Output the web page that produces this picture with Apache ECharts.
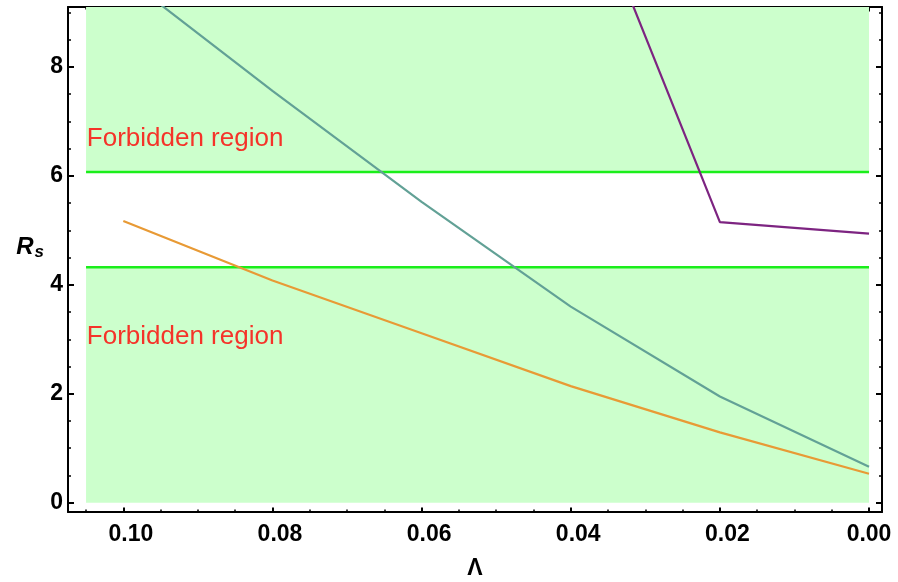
<!DOCTYPE html>
<html>
<head>
<meta charset="utf-8">
<script src="https://cdn.jsdelivr.net/npm/echarts@6/dist/echarts.min.js"></script>
<style>html,body{margin:0;padding:0;background:#fff}#c{width:898px;height:582px}</style>
</head>
<body>
<div id="c"></div>
<script>
// ---- data ----
const lambda = [0, 0.02, 0.04, 0.06, 0.08, 0.10];
const tealRs = [0.66, 1.95, 3.60, 5.52, 7.56, 9.67];
const orangeRs = [0.53, 1.29, 2.14, 3.11, 4.08, 5.17];
const purpleLambda = [0, 0.02, 0.04];
const purpleRs = [4.94, 5.15, 11.97];

const bandX = [0.105, 0];
const lowerBound = 4.32;
const upperBound = 6.07;

const annotText = ['Forbidden region', 'Forbidden region'];
const annotX = [0.1049, 0.1049];
const annotY = [6.67, 3.05];

const xMajor = [0, 0.02, 0.04, 0.06, 0.08, 0.10];
const xMinor = [0.005, 0.01, 0.015, 0.025, 0.03, 0.035, 0.045, 0.05, 0.055, 0.065, 0.07, 0.075, 0.085, 0.09, 0.095, 0.105];
const yMajor = [0, 2, 4, 6, 8];
const yMinor = [0.5, 1, 1.5, 2.5, 3, 3.5, 4.5, 5, 5.5, 6.5, 7, 7.5, 8.5, 9];

const X_MIN = -0.00174, X_MAX = 0.10742;
const Y_MIN = -0.171, Y_MAX = 9.099;

// ---- chart ----
const chart = echarts.init(document.getElementById('c'), null, {renderer: 'canvas'});
const labelFont = {fontFamily: 'Liberation Sans', fontWeight: 'bold', fontSize: 23, color: '#000'};
const lineStyle = {color: '#000', width: 2};

function xAx(pos, ticks, len, showLine, showLabel) {
  return {
    type: 'value', position: pos, min: X_MIN, max: X_MAX, inverse: true,
    axisLine: {show: showLine, onZero: false, lineStyle: lineStyle},
    axisTick: {show: true, inside: true, length: len, customValues: ticks, lineStyle: {color: '#000', width: len > 3 ? 2 : 1.5}},
    axisLabel: showLabel ? Object.assign({show: true, customValues: xMajor, margin: 11,
      formatter: v => (v === 0 ? '{e|' : '{n|') + v.toFixed(2) + '}',
      rich: {
        n: Object.assign({padding: [0, 0, 0, 15]}, labelFont),
        e: Object.assign({padding: [0, 0, 0, 0]}, labelFont)
      }}, labelFont) : {show: false},
    splitLine: {show: false}
  };
}
function yAx(pos, ticks, len, showLine, showLabel) {
  return {
    type: 'value', position: pos, min: Y_MIN, max: Y_MAX,
    axisLine: {show: showLine, onZero: false, lineStyle: lineStyle},
    axisTick: {show: true, inside: true, length: len, customValues: ticks, lineStyle: {color: '#000', width: len > 3 ? 2 : 1.5}},
    axisLabel: showLabel ? Object.assign({show: true, customValues: yMajor, margin: 5,
      formatter: v => String(Math.round(v))}, labelFont) : {show: false},
    splitLine: {show: false}
  };
}

const xAxes = [
  xAx('bottom', xMajor, 4.5, true, true),
  xAx('top', xMajor, 4.5, true, false),
  xAx('bottom', xMinor, 2.5, false, false),
  xAx('top', xMinor, 2.5, false, false)
];
xAxes[0].name = 'Λ';
xAxes[0].nameLocation = 'middle';
xAxes[0].nameGap = 45;
xAxes[0].nameTextStyle = Object.assign({}, labelFont);

const yAxes = [
  yAx('left', yMajor, 6, true, true),
  yAx('right', yMajor, 6, true, false),
  yAx('left', yMinor, 3, false, false),
  yAx('right', yMinor, 3, false, false)
];
yAxes[0].name = '{R|R}{s|s}';
yAxes[0].nameLocation = 'middle';
yAxes[0].nameRotate = 0;
yAxes[0].nameGap = 24;
yAxes[0].nameTextStyle = {
  align: 'right', padding: [0, 0, 24, 0],
  rich: {
    R: {fontFamily: 'Liberation Sans', fontWeight: 'bold', fontStyle: 'italic', fontSize: 24, color: '#000'},
    s: {fontFamily: 'Liberation Sans', fontWeight: 'bold', fontStyle: 'italic', fontSize: 17, color: '#000', padding: [9, 0, 0, 1]}
  }
};

const bandColor = '#ccffcc';
const bandLine = {color: '#1aee1a', width: 2.5};

const option = {
  animation: false,
  backgroundColor: '#fff',
  grid: {left: 68, right: 16, top: 7, bottom: 70, containLabel: false, outerBoundsMode: 'none'},
  xAxis: xAxes,
  yAxis: yAxes,
  series: [
    {
      type: 'line', name: 'lowerBand', z: 1, silent: true, symbol: 'none',
      data: [[bandX[0], lowerBound], [bandX[1], lowerBound]],
      lineStyle: {opacity: 0},
      markArea: {silent: true, itemStyle: {color: bandColor}, data: [
        [{coord: [bandX[0], 0]}, {coord: [bandX[1], lowerBound]}],
        [{coord: [bandX[0], upperBound]}, {coord: [bandX[1], Y_MAX]}]
      ]}
    },
    {
      type: 'line', name: 'lowerEdge', z: 2, silent: true, symbol: 'none',
      data: [[bandX[0], lowerBound], [bandX[1], lowerBound]], lineStyle: bandLine
    },
    {
      type: 'line', name: 'upperEdge', z: 2, silent: true, symbol: 'none',
      data: [[bandX[0], upperBound], [bandX[1], upperBound]], lineStyle: bandLine
    },
    {
      type: 'line', name: 'teal', z: 3, symbol: 'none',
      data: lambda.map((x, i) => [x, tealRs[i]]),
      lineStyle: {color: '#62a196', width: 2.2}
    },
    {
      type: 'line', name: 'orange', z: 3, symbol: 'none',
      data: lambda.map((x, i) => [x, orangeRs[i]]),
      lineStyle: {color: '#e89a35', width: 2.2}
    },
    {
      type: 'line', name: 'purple', z: 3, symbol: 'none',
      data: purpleLambda.map((x, i) => [x, purpleRs[i]]),
      lineStyle: {color: '#7d2481', width: 2.2}
    },
    {
      type: 'scatter', name: 'annotations', z: 4, symbolSize: 0, silent: true,
      data: annotX.map((x, i) => ({value: [x, annotY[i]], name: annotText[i]})),
      label: {show: true, position: [0, 0], align: 'left', verticalAlign: 'middle',
        formatter: p => p.name, color: '#ff0000', fontFamily: 'Liberation Sans', fontSize: 26}
    }
  ]
};
chart.setOption(option);
</script>
</body>
</html>
